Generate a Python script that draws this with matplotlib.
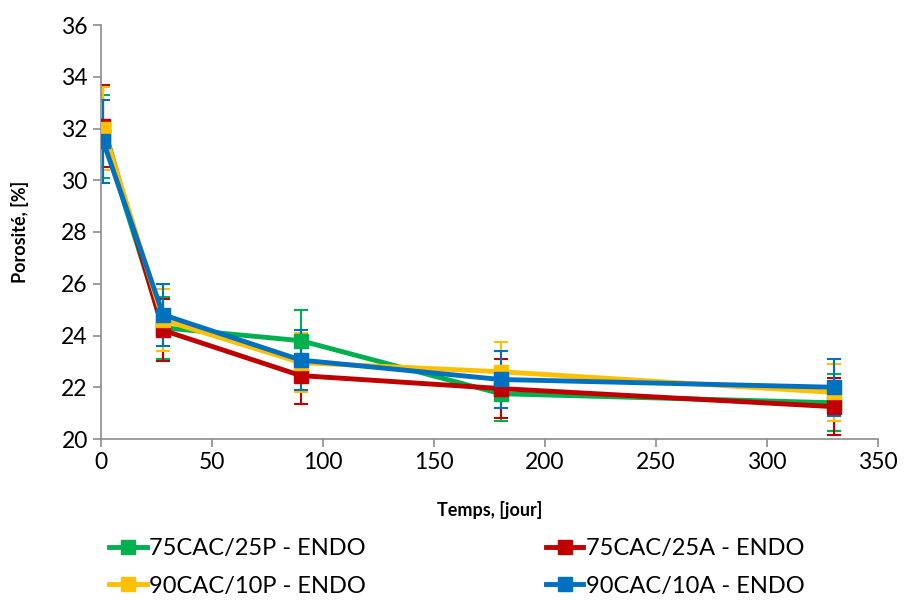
import numpy as np
import matplotlib
matplotlib.use("Agg")
import matplotlib.pyplot as plt

plt.rcParams['font.family'] = ['Lato', 'DejaVu Sans']

# data
days = [1, 28, 90, 180, 330]
labels = ["75CAC/25P - ENDO", "75CAC/25A - ENDO", "90CAC/10P - ENDO", "90CAC/10A - ENDO"]
colors = ["#00B050", "#C00000", "#FFC000", "#0070C0"]

green_vals = [31.7, 24.3, 23.8, 21.75, 21.4]
green_err = [1.6, 1.2, 1.2, 1.05, 1.1]
red_vals = [32.1, 24.2, 22.45, 21.95, 21.25]
red_err = [1.6, 1.2, 1.1, 1.15, 1.1]
yellow_vals = [32.0, 24.6, 22.95, 22.6, 21.8]
yellow_err = [1.6, 1.2, 1.15, 1.15, 1.1]
blue_vals = [31.5, 24.8, 23.05, 22.3, 22.0]
blue_err = [1.6, 1.2, 1.15, 1.1, 1.1]

series = [green_vals, red_vals, yellow_vals, blue_vals]
errors = [green_err, red_err, yellow_err, blue_err]

fig = plt.figure(figsize=(9.09, 6.0), dpi=100)
ax = fig.add_axes([101 / 909, 1 - 439 / 600, 777 / 909, 414 / 600])

handles = []
for vals, err, col, lab in zip(series, errors, colors, labels):
    ax.errorbar(days, vals, yerr=err, fmt='none', ecolor=col, elinewidth=1.5,
                capsize=5, capthick=1.5, zorder=2)
    h, = ax.plot(days, vals, color=col, linewidth=3.5, marker='s', markersize=10,
                 label=lab, zorder=3)
    handles.append(h)

ax.set_xlim(0, 350)
ax.set_ylim(20, 36)
ax.set_xticks(np.arange(0, 351, 50))
ax.set_yticks(np.arange(20, 37, 2))
for s in ['top', 'right']:
    ax.spines[s].set_visible(False)
for s in ['left', 'bottom']:
    ax.spines[s].set_color('#8c8c8c')
    ax.spines[s].set_linewidth(1.2)
ax.tick_params(direction='out', length=6, width=1.2, color='#8c8c8c', labelsize=16.5)

ax.set_xlabel("Temps, [jour]", fontsize=13, fontweight='bold', labelpad=20)
ax.set_ylabel("Porosité, [%]", fontsize=13, fontweight='bold', labelpad=23)

# legend rows: green/red, yellow/blue
order = [0, 2, 1, 3]
fig.legend([handles[i] for i in order], [labels[i] for i in order],
           ncol=2, loc='lower left', bbox_to_anchor=(88 / 909, -0.03),
           frameon=False, fontsize=17, columnspacing=7.6, handlelength=1.6,
           handletextpad=0.1, labelspacing=0.7)

fig.savefig("out.png", dpi=100)
